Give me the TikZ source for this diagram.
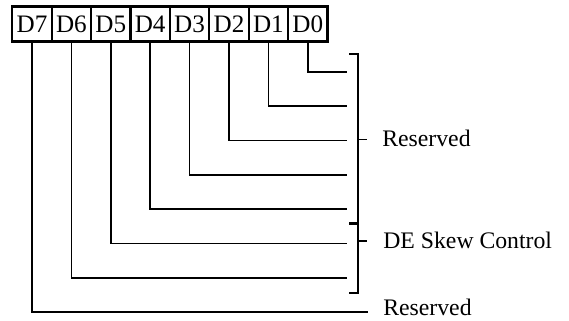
\documentclass[tikz,border=0pt]{standalone}
\usepackage{fontspec}
\setmainfont{Liberation Serif}
\usepackage{tikz}
\usetikzlibrary{positioning}
\tikzset{
  bitbox/.style={draw=black,line width=1.2pt,outer sep=0pt,inner sep=0pt,
                 minimum width=0.788cm,minimum height=0.7cm,
                 font=\fontsize{14.3}{17}\selectfont},
  wire/.style={draw=black,line width=1pt},
  lbl/.style={anchor=base west,inner sep=0pt,font=\fontsize{13.5}{16}\selectfont}
}

\begin{document}
\begin{tikzpicture}
  \useasboundingbox (0,0) rectangle (11.38,-6.4);

  \node[bitbox] (d7) at (0.64,-0.48) {D7};
  \node[bitbox] (d6) at (1.428,-0.48) {D6};
  \node[bitbox] (d5) at (2.216,-0.48) {D5};
  \node[bitbox] (d4) at (3.004,-0.48) {D4};
  \node[bitbox] (d3) at (3.792,-0.48) {D3};
  \node[bitbox] (d2) at (4.58,-0.48) {D2};
  \node[bitbox] (d1) at (5.368,-0.48) {D1};
  \node[bitbox] (d0) at (6.156,-0.48) {D0};

  \coordinate (e0) at (6.94,-1.44);
  \coordinate (e1) at (6.94,-2.126);
  \coordinate (e2) at (6.94,-2.812);
  \coordinate (e3) at (6.94,-3.498);
  \coordinate (e4) at (6.94,-4.184);
  \coordinate (e5) at (6.94,-4.87);
  \coordinate (e6) at (6.94,-5.556);
  \coordinate (e7) at (7.36,-6.242);

  \draw[wire] (d0.south) |- (e0);
  \draw[wire] (d1.south) |- (e1);
  \draw[wire] (d2.south) |- (e2);
  \draw[wire] (d3.south) |- (e3);
  \draw[wire] (d4.south) |- (e4);
  \draw[wire] (d5.south) |- (e5);
  \draw[wire] (d6.south) |- (e6);
  \draw[wire] (d7.south) |- (e7);

  % brackets
  \draw[wire] (6.98,-1.08) -- (7.16,-1.08) -- (7.16,-4.46) -- (6.98,-4.46);
  \draw[wire] (7.16,-2.79) -- (7.34,-2.79);
  \draw[wire] (6.98,-4.48) -- (7.16,-4.48) -- (7.16,-5.86) -- (6.98,-5.86);
  \draw[wire] (7.16,-4.82) -- (7.34,-4.82);

  \node[lbl] (res1) at (7.64,-2.92) {Reserved};
  \node[lbl] (skew) at (7.66,-4.96) {DE Skew Control};
  \node[lbl] (res2) at (7.66,-6.3) {Reserved};
\end{tikzpicture}
\end{document}
